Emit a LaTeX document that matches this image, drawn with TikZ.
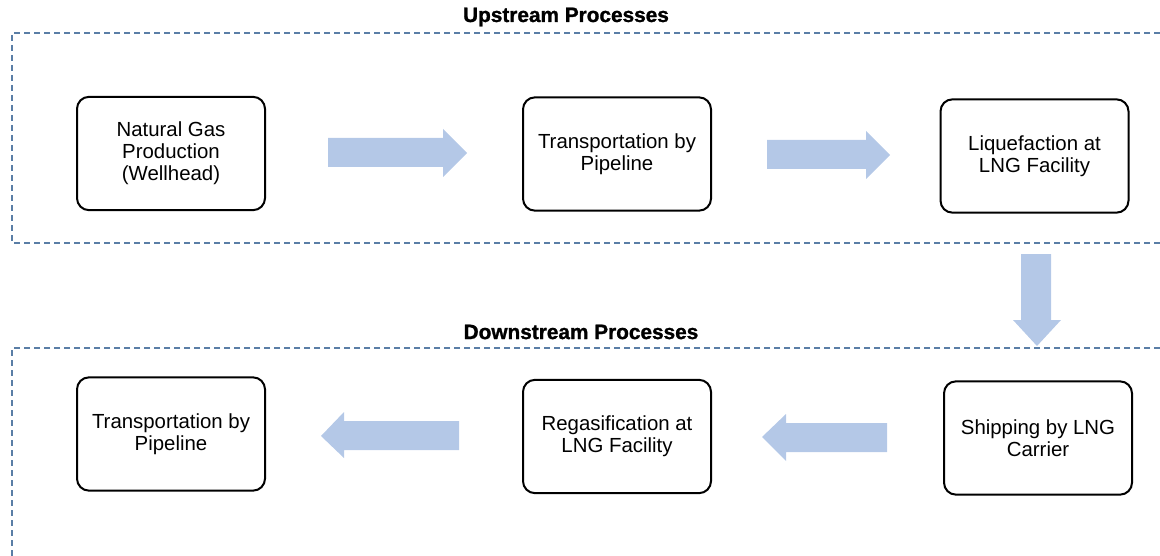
\documentclass[tikz,border=0pt]{standalone}
\usepackage{fontspec}
\setmainfont{Liberation Sans}
\newfontfamily\heavytitle[FakeBold=1.2]{Liberation Sans Bold}
\definecolor{arrowblue}{HTML}{B4C8E7}
\definecolor{dashblue}{HTML}{5A7EA6}
\tikzset{
  procbox/.style={draw=black, line width=1.5pt, rounded corners=9pt, fill=white,
    minimum width=141pt, minimum height=85pt, align=center, inner sep=2pt,
    font=\fontsize{15.3pt}{16.5pt}\selectfont},
  grouptitle/.style={font=\heavytitle\fontsize{15.6pt}{18pt}\selectfont, inner sep=0pt},
  groupline/.style={draw=dashblue, line width=1.1pt, dash pattern=on 4.5pt off 3pt},
  blockarrow/.style={fill=arrowblue, draw=none}
}
\begin{document}
\begin{tikzpicture}[x=0.75pt,y=-0.75pt]
\useasboundingbox (0,0) rectangle (1160,556);
% group frames
\draw[groupline] (1160,33) -- (12,33) -- (12,243) -- (1160,243);
\draw[groupline] (1160,348) -- (12,348) -- (12,556);
\node[grouptitle] (uptitle) at (566,17) {Upstream Processes};
\node[grouptitle] (downtitle) at (581,332) {Downstream Processes};
% process boxes
\node[procbox] (prod) at (171,153.5) {Natural Gas\\Production\\(Wellhead)};
\node[procbox] (pipe1) at (617,154) {Transportation by\\Pipeline};
\node[procbox] (liq) at (1034.5,156) {Liquefaction at\\LNG Facility};
\node[procbox] (ship) at (1038,438) {Shipping by LNG\\Carrier};
\node[procbox] (regas) at (617,436.5) {Regasification at\\LNG Facility};
\node[procbox] (pipe2) at (171,434) {Transportation by\\Pipeline};
% block arrows
\fill[blockarrow] (328,138) -- (443,138) -- (443,129) -- (467,153) -- (443,177) -- (443,167) -- (328,167) -- cycle;
\fill[blockarrow] (767,140) -- (866,140) -- (866,131) -- (890,155) -- (866,179) -- (866,169) -- (767,169) -- cycle;
\fill[blockarrow] (1021,254) -- (1051,254) -- (1051,320) -- (1061,320) -- (1037,346) -- (1013,320) -- (1021,320) -- cycle;
\fill[blockarrow] (887,423) -- (786,423) -- (786,414) -- (762,437) -- (786,461) -- (786,452) -- (887,452) -- cycle;
\fill[blockarrow] (459,421) -- (344,421) -- (344,412) -- (321,436) -- (344,458) -- (344,450) -- (459,450) -- cycle;
\end{tikzpicture}
\end{document}
